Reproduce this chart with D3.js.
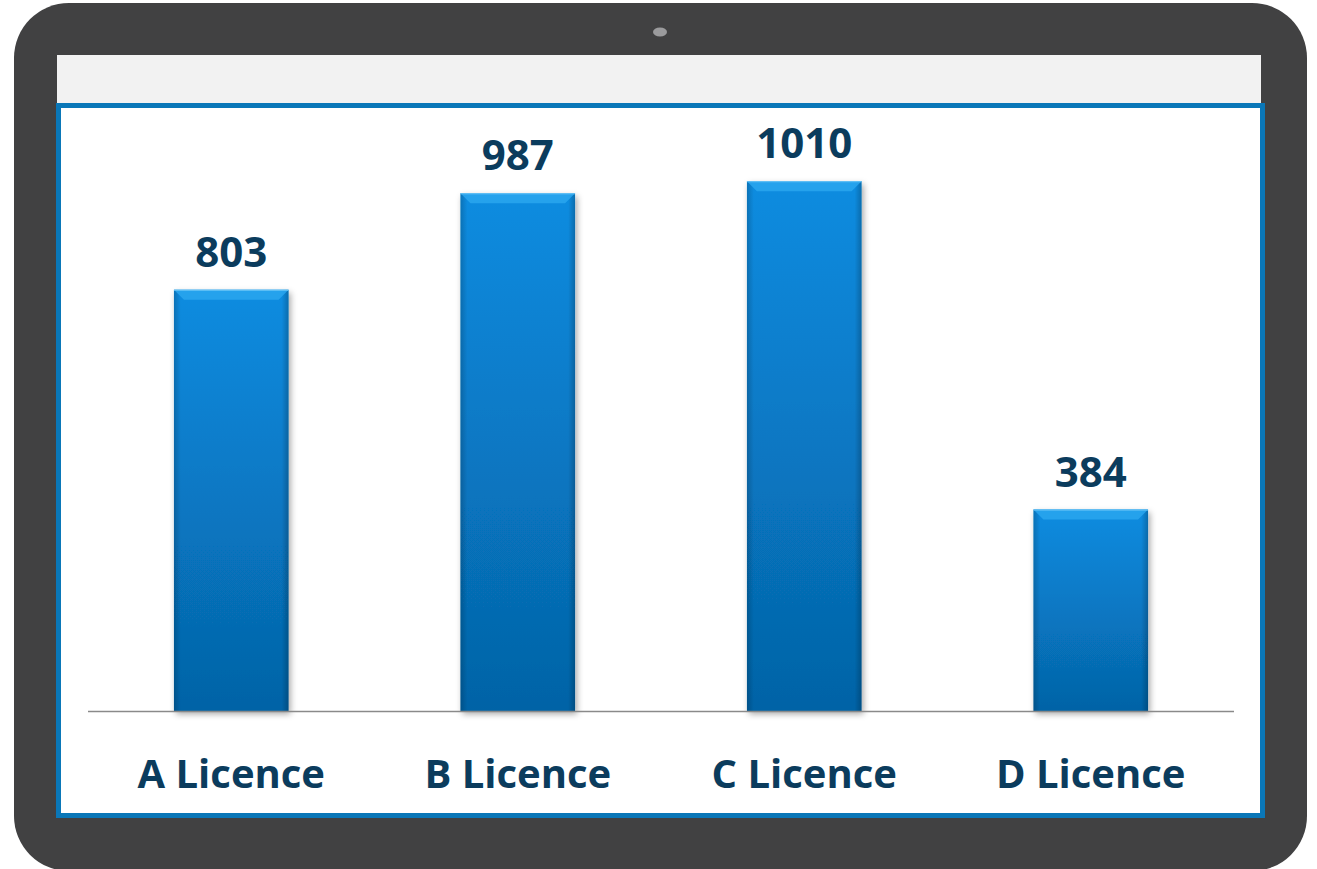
<!DOCTYPE html>
<html>
<head>
<meta charset="utf-8">
<script src="https://cdn.jsdelivr.net/npm/d3@7"></script>
<style>
  body { margin: 0; background: #fff; }
  svg { display: block; }
</style>
</head>
<body>
<div id="chart-area"></div>
<script>
// Data
const categories = ['A Licence', 'B Licence', 'C Licence', 'D Licence'];
const values = [803, 987, 1010, 384];

const W = 1317, H = 869;

const svg = d3.select('#chart-area').append('svg')
  .attr('width', W)
  .attr('height', H);

const defs = svg.append('defs');

// bar gradient
const grad = defs.append('linearGradient')
  .attr('id', 'barGrad')
  .attr('x1', 0).attr('y1', 0).attr('x2', 0).attr('y2', 1);
grad.append('stop').attr('offset', '0%').attr('stop-color', '#0a8ce0');
grad.append('stop').attr('offset', '100%').attr('stop-color', '#0563a6');

// side shading
const side = defs.append('linearGradient')
  .attr('id', 'sideGrad')
  .attr('x1', 0).attr('y1', 0).attr('x2', 1).attr('y2', 0);
side.append('stop').attr('offset', '0%').attr('stop-color', '#000').attr('stop-opacity', 0.18);
side.append('stop').attr('offset', '6%').attr('stop-color', '#000').attr('stop-opacity', 0);
side.append('stop').attr('offset', '94%').attr('stop-color', '#000').attr('stop-opacity', 0);
side.append('stop').attr('offset', '100%').attr('stop-color', '#000').attr('stop-opacity', 0.22);

// drop shadow
const filt = defs.append('filter')
  .attr('id', 'shadow')
  .attr('x', '-20%').attr('y', '-10%').attr('width', '140%').attr('height', '130%');
filt.append('feDropShadow')
  .attr('dx', 2).attr('dy', 3).attr('stdDeviation', 3)
  .attr('flood-color', '#000').attr('flood-opacity', 0.35);

// Tablet frame
svg.append('rect')
  .attr('x', 14).attr('y', 3)
  .attr('width', 1293).attr('height', 868)
  .attr('rx', 55)
  .attr('fill', '#414142');

// camera
svg.append('ellipse')
  .attr('cx', 660).attr('cy', 32)
  .attr('rx', 7).attr('ry', 4.5)
  .attr('fill', '#9b9b9d');

// screen top bar
svg.append('rect')
  .attr('x', 57).attr('y', 55)
  .attr('width', 1204).attr('height', 50)
  .attr('fill', '#f2f2f2');

// screen
svg.append('rect')
  .attr('x', 58.5).attr('y', 105.5)
  .attr('width', 1204).attr('height', 710)
  .attr('fill', '#ffffff')
  .attr('stroke', '#0a77b8')
  .attr('stroke-width', 5);

// Plot area
const margin = { left: 88, right: 83, top: 134, bottom: 158 };
const width = W - margin.left - margin.right;
const height = H - margin.top - margin.bottom;

const g = svg.append('g')
  .attr('transform', 'translate(' + margin.left + ', ' + margin.top + ')');

const x = d3.scaleBand()
  .domain(categories)
  .range([0, width])
  .paddingInner(0.6)
  .paddingOuter(0.3);

const y = d3.scaleLinear()
  .domain([0, 1100])
  .range([height, 0]);

const data = categories.map((c, i) => ({ cat: c, value: values[i] }));

const bars = g.selectAll('g.bar')
  .data(data)
  .enter()
  .append('g')
  .attr('class', 'bar');

bars.append('rect')
  .attr('x', d => x(d.cat))
  .attr('y', d => y(d.value))
  .attr('width', x.bandwidth())
  .attr('height', d => height - y(d.value))
  .attr('fill', 'url(#barGrad)')
  .attr('filter', 'url(#shadow)');

bars.append('rect')
  .attr('x', d => x(d.cat))
  .attr('y', d => y(d.value))
  .attr('width', x.bandwidth())
  .attr('height', d => height - y(d.value))
  .attr('fill', 'url(#sideGrad)');

// top bevel
const bev = 10;
bars.append('path')
  .attr('d', d => {
    const x0 = x(d.cat), x1 = x0 + x.bandwidth(), y0 = y(d.value);
    return 'M' + x0 + ',' + y0 + 'L' + x1 + ',' + y0 +
      'L' + (x1 - bev) + ',' + (y0 + bev) + 'L' + (x0 + bev) + ',' + (y0 + bev) + 'Z';
  })
  .attr('fill', '#2aa6ef')
  .attr('opacity', 0.85);

bars.append('line')
  .attr('x1', d => x(d.cat))
  .attr('x2', d => x(d.cat) + x.bandwidth())
  .attr('y1', d => y(d.value) + 0.5)
  .attr('y2', d => y(d.value) + 0.5)
  .attr('stroke', '#6cc6f7')
  .attr('stroke-width', 1);

// baseline
g.append('line')
  .attr('x1', 0).attr('x2', width)
  .attr('y1', height + 0.5).attr('y2', height + 0.5)
  .attr('stroke', '#8a8a8a')
  .attr('stroke-width', 1.5);

// value labels
bars.append('text')
  .attr('x', d => x(d.cat) + x.bandwidth() / 2)
  .attr('y', d => y(d.value) - 23)
  .attr('text-anchor', 'middle')
  .attr('font-family', 'Open Sans')
  .attr('font-weight', 700)
  .attr('font-size', '42px')
  .attr('fill', '#0b3c5d')
  .text(d => d.value);

// category labels
const xAxisCall = d3.axisBottom(x).tickSize(0).tickPadding(0);
const xAxis = g.append('g')
  .attr('transform', 'translate(0, ' + height + ')')
  .call(xAxisCall);
xAxis.select('.domain').remove();
xAxis.selectAll('text')
  .attr('dy', null)
  .attr('y', 77)
  .attr('font-family', 'Open Sans')
  .attr('font-weight', 700)
  .attr('font-size', '40px')
  .attr('fill', '#0b3c5d');
</script>
</body>
</html>
